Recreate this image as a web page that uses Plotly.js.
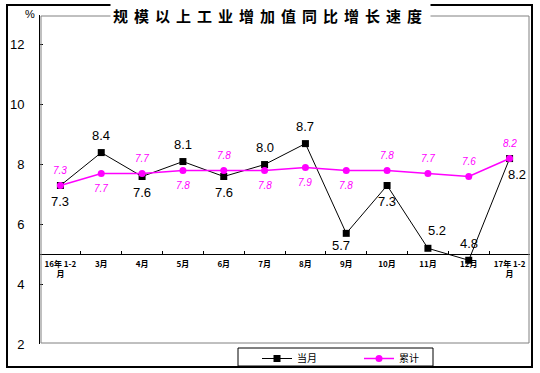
<!DOCTYPE html>
<html>
<head>
<meta charset="utf-8">
<script src="https://cdn.plot.ly/plotly-3.0.1.min.js"></script>
<style>html,body{margin:0;padding:0;background:#fff;}#chart{width:540px;height:373px;}</style>
</head>
<body>
<div id="chart"></div>
<script>
const categories = ['16年 1-2<br>月','3月','4月','5月','6月','7月','8月','9月','10月','11月','12月','17年 1-2<br>月'];
const monthly = [7.3, 8.4, 7.6, 8.1, 7.6, 8.0, 8.7, 5.7, 7.3, 5.2, 4.8, 8.2];
const cumulative = [7.3, 7.7, 7.7, 7.8, 7.8, 7.8, 7.9, 7.8, 7.8, 7.7, 7.6, 8.2];
// label placement: a = above, b = below, br = below-right, bl = below-left (close), ar = above-right
const monthlyLabelSide = ['b','a','b','a','b','a','a','bl','b','ar','a','br'];
const cumulativeLabelSide = ['a','b','a','b','a','b','b','b','a','a','a','a'];
const yTicks = [2, 4, 6, 8, 10, 12];
const seriesNames = ['当月', '累计'];
const titleText = '规模以上工业增加值同比增长速度';

const FONT = 'Liberation Sans, Arial, Noto Sans CJK SC, sans-serif';
const CJK = 'Noto Sans CJK SC, Liberation Sans, sans-serif';

// pixel geometry helpers (plot area 40..530 x 15..344)
const L = 40, R = 10, T = 15, B = 29, W = 540, H = 373;
const pw = W - L - R, ph = H - T - B;
const px = v => (v - L) / pw;
const py = v => (H - B - v) / ph;

const sideShift = {
  a: [0, 17], b: [0, -16], br: [7, -16], bl: [-5, -12], ar: [9, 18]
};

const annotations = [];
monthly.forEach((v, i) => {
  const sh = sideShift[monthlyLabelSide[i]];
  annotations.push({
    x: i, y: v, xref: 'x', yref: 'y', text: v.toFixed(1), showarrow: false,
    xshift: sh[0], yshift: sh[1],
    font: {family: FONT, size: 13, color: '#000'}
  });
});
cumulative.forEach((v, i) => {
  const s = cumulativeLabelSide[i];
  annotations.push({
    x: i, y: v, xref: 'x', yref: 'y', text: v.toFixed(1), showarrow: false,
    yshift: s === 'a' ? 15 : -15,
    font: {family: FONT, size: 10, color: '#FF00FF', style: 'italic'}
  });
});
annotations.push({
  xref: 'paper', yref: 'paper', x: px(270), y: py(16), xanchor: 'center', yanchor: 'middle',
  text: '<span style="letter-spacing:6px">' + titleText + '</span>', showarrow: false,
  bgcolor: '#fff', borderpad: 2,
  font: {family: CJK, size: 15, color: '#000', weight: 'bold'}
});
annotations.push({
  xref: 'paper', yref: 'paper', x: px(30), y: py(14), xanchor: 'center', yanchor: 'middle',
  text: '%', showarrow: false, font: {family: FONT, size: 11, color: '#000'}
});

const traces = [
  {
    type: 'scatter', mode: 'lines+markers', name: seriesNames[0],
    x: categories, y: monthly,
    line: {color: '#000', width: 1},
    marker: {symbol: 'square', size: 7, color: '#000'}
  },
  {
    type: 'scatter', mode: 'lines+markers', name: seriesNames[1],
    x: categories, y: cumulative,
    line: {color: '#FF00FF', width: 1.5},
    marker: {symbol: 'circle', size: 7, color: '#FF00FF'}
  }
];

const layout = {
  width: W, height: H,
  margin: {l: L, r: R, t: T, b: B, pad: 0, autoexpand: false},
  paper_bgcolor: '#fff', plot_bgcolor: '#fff',
  font: {family: FONT, color: '#000'},
  showlegend: true,
  legend: {
    orientation: 'h', x: px(257), y: py(344), xanchor: 'left', yanchor: 'top',
    font: {family: CJK, size: 10, color: '#000'},
    entrywidth: 57, entrywidthmode: 'pixels',
    bgcolor: 'rgba(0,0,0,0)', borderwidth: 0, tracegroupgap: 0, itemwidth: 30
  },
  xaxis: {
    type: 'category', categoryorder: 'array', categoryarray: categories,
    range: [-0.5, categories.length - 0.5],
    anchor: 'free', position: (5 - 2) / (13 - 2),
    showline: true, linecolor: '#000', linewidth: 1,
    showgrid: false, zeroline: false,
    ticks: 'inside', tickson: 'boundaries', ticklen: 3, tickcolor: '#000',
    tickangle: 0, ticklabelstandoff: 2,
    tickfont: {family: CJK, size: 8, color: '#000', weight: 'bold'}
  },
  yaxis: {
    range: [2, 13], tickvals: yTicks, ticktext: yTicks.map(String),
    showline: true, linecolor: '#000', linewidth: 1,
    showgrid: false, zeroline: false,
    ticks: 'inside', ticklen: 3, tickcolor: '#000',
    ticklabelstandoff: 12,
    tickfont: {family: FONT, size: 13, color: '#000'}
  },
  shapes: [
    {type: 'rect', xref: 'paper', yref: 'paper', x0: px(7), x1: px(532), y0: py(367), y1: py(5),
     line: {color: '#000', width: 2}},
    {type: 'rect', xref: 'paper', yref: 'paper', x0: px(238), x1: px(433), y0: py(366), y1: py(348),
     line: {color: '#000', width: 1}},
    {type: 'rect', xref: 'paper', yref: 'paper', x0: px(41), x1: px(529), y0: py(343), y1: py(16),
     line: {color: '#808080', width: 1}}
  ],
  annotations: annotations
};

Plotly.newPlot('chart', traces, layout, {displayModeBar: false, staticPlot: true});
</script>
</body>
</html>
